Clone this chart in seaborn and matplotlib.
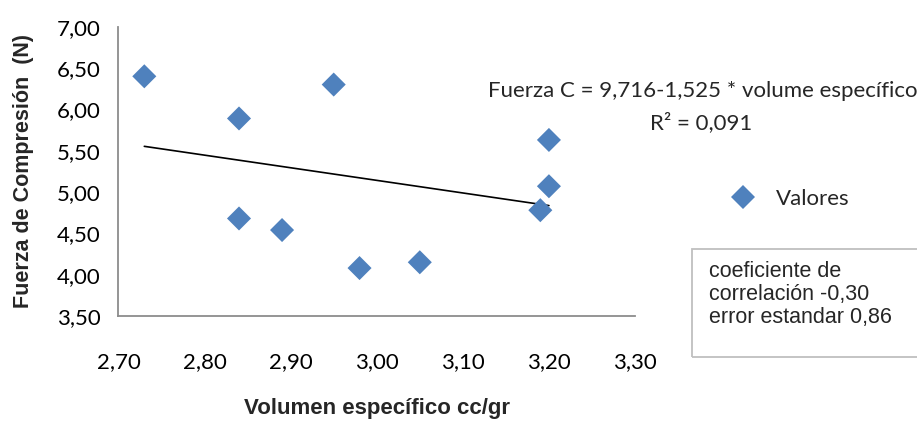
import numpy as np
import pandas as pd
import matplotlib
matplotlib.use("Agg")
import matplotlib.pyplot as plt
import seaborn as sns

# Specific volume (cc/gr) and compression force (N)
volumen = [2.73, 2.84, 2.84, 2.89, 2.95, 2.98, 3.05, 3.20, 3.20, 3.19]
fuerza = [6.40, 5.89, 4.68, 4.54, 6.30, 4.08, 4.15, 5.63, 5.07, 4.78]

# Linear fit reported on the chart
intercepto = 9.716
pendiente = -1.525
r2 = 0.091

x_ticks = [2.70, 2.80, 2.90, 3.00, 3.10, 3.20, 3.30]
y_ticks = [3.50, 4.00, 4.50, 5.00, 5.50, 6.00, 6.50, 7.00]

sns.set_theme(style="white")
plt.rcParams["font.family"] = ["Lato", "DejaVu Sans"]


def coma(v, dec=2):
    return f"{v:.{dec}f}".replace(".", ",")


df = pd.DataFrame({"Volumen": volumen, "Fuerza": fuerza, "Serie": "Valores"})
x_fit = np.array([min(volumen), max(volumen)])
fit = pd.DataFrame({"Volumen": x_fit, "Fuerza": intercepto + pendiente * x_fit})

fig = plt.figure(figsize=(9.17, 4.22), dpi=100)
ax = fig.add_axes([0.1292, 0.2512, 0.5633, 0.6855])

blue = "#4F81BD"
sns.lineplot(data=fit, x="Volumen", y="Fuerza", ax=ax, color="black",
             linewidth=1.2, legend=False)
sns.scatterplot(data=df, x="Volumen", y="Fuerza", hue="Serie", palette=[blue],
                marker="D", s=150, edgecolor=blue, linewidth=0, ax=ax, zorder=3)

ax.set_xlim(2.70, 3.30)
ax.set_ylim(3.50, 7.00)
ax.set_xticks(x_ticks)
ax.set_yticks(y_ticks)
ax.set_xticklabels([coma(v) for v in x_ticks])
ax.set_yticklabels([coma(v) for v in y_ticks])

for side in ["top", "right"]:
    ax.spines[side].set_visible(False)
for side in ["left", "bottom"]:
    ax.spines[side].set_color("#8C8C8C")
    ax.spines[side].set_linewidth(1.3)
ax.tick_params(axis="both", which="major", direction="out", length=7,
               width=1.3, color="#8C8C8C", labelsize=16, labelcolor="black")
ax.tick_params(axis="x", pad=19)
ax.tick_params(axis="y", pad=6)
ax.grid(False)

ax.set_xlabel("Volumen específico cc/gr", fontsize=16, fontweight="bold",
              family=["Liberation Sans"])
ax.set_ylabel("Fuerza de Compresión  (N)", fontsize=15.5, fontweight="bold",
              family=["Liberation Sans"])
ax.xaxis.set_label_coords(0.5, -0.285)
ax.yaxis.set_label_coords(-0.163, 0.5)

# Regression equation and R²
eq = ("Fuerza C = " + coma(intercepto, 3) + "-" + coma(abs(pendiente), 3)
      + " * volume específico")
fig.text(0.766, 0.784, eq, ha="center", va="center", fontsize=16)
fig.text(0.765, 0.709, "R² = " + coma(r2, 3), ha="center", va="center",
         fontsize=16)

# Legend
ax.legend(loc="center left", bbox_to_anchor=(0.764, 0.528),
          bbox_transform=fig.transFigure, frameon=False, fontsize=16,
          handletextpad=0.5, markerscale=1.0)

# Statistics box
fig.patches.append(plt.Rectangle((0.7546, 0.155), 0.26, 0.255,
                                 transform=fig.transFigure, fill=False,
                                 edgecolor="#BFBFBF", linewidth=1.3))
fig.text(0.7735, 0.382, "coeficiente de\ncorrelación -0,30\nerror estandar 0,86",
         ha="left", va="top", fontsize=15.5, linespacing=1.12,
         family=["Liberation Sans"])

fig.savefig("out.png", dpi=100)
